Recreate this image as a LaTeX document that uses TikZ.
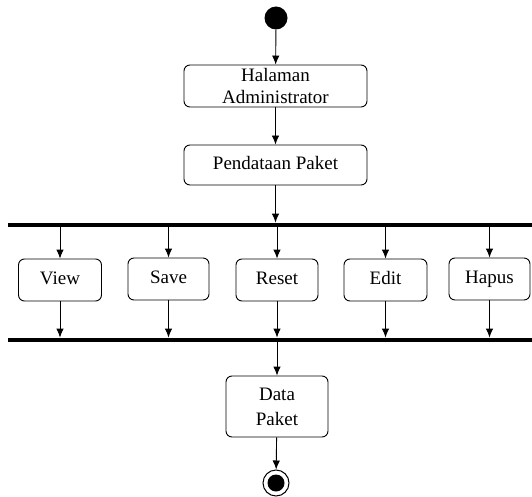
\documentclass[tikz,border=0pt]{standalone}
\usepackage{fontspec}
\setmainfont{Liberation Serif}
\usetikzlibrary{arrows.meta}
\begin{document}
\begin{tikzpicture}[x=1pt,y=-1pt,
  actbox/.style={draw,rounded corners=6pt,line width=0.9pt,align=center,inner sep=0pt,
    font=\fontsize{19}{22}\selectfont},
  onel/.style={text height=12.5pt,text depth=4pt},
  bar/.style={fill=black,inner sep=0pt,minimum height=4.5pt,minimum width=524pt},
  flow/.style={-{Latex[length=9pt,width=7.5pt]},line width=0.9pt}]
\useasboundingbox (0,0) rectangle (532,497);
\node[circle,fill=black,inner sep=0pt,minimum size=23pt] (start) at (276,18) {};
\node[actbox,minimum width=183pt,minimum height=42pt] (adm) at (275.5,86) {Halaman\\Administrator};
\node[actbox,onel,minimum width=183pt,minimum height=40pt] (pend) at (275.5,165) {Pendataan Paket};
\node[bar] (bar1) at (270,225) {};
\node[actbox,onel,minimum width=83pt,minimum height=42pt] (view) at (60,280) {View};
\node[actbox,onel,minimum width=81pt,minimum height=42pt] (save) at (168.5,279) {Save};
\node[actbox,onel,minimum width=82pt,minimum height=42pt] (reset) at (277,280) {Reset};
\node[actbox,onel,minimum width=83pt,minimum height=42pt] (edit) at (385.5,280) {Edit};
\node[actbox,onel,minimum width=81pt,minimum height=42pt] (hapus) at (489.5,279) {Hapus};
\node[bar] (bar2) at (270,340) {};
\node[actbox,minimum width=102pt,minimum height=61pt,font=\fontsize{19}{25}\selectfont] (data) at (277,406.5) {Data\\Paket};
\node[circle,draw,line width=1pt,fill=white,inner sep=0pt,minimum size=26pt] (end) at (276,483) {};
\fill (end.center) circle (8.5pt);
\draw[flow] (start) -- (adm);
\draw[flow] (adm) -- (pend);
\draw[flow] (pend) -- (pend.south |- bar1.north);
\foreach \b in {view,save,reset,edit,hapus}{
  \draw[flow] (\b.north |- bar1.south) -- (\b.north);
  \draw[flow] (\b.south) -- (\b.south |- bar2.north);
}
\draw[flow] (data.north |- bar2.south) -- (data.north);
\draw[flow] (data) -- (end);
\end{tikzpicture}
\end{document}
